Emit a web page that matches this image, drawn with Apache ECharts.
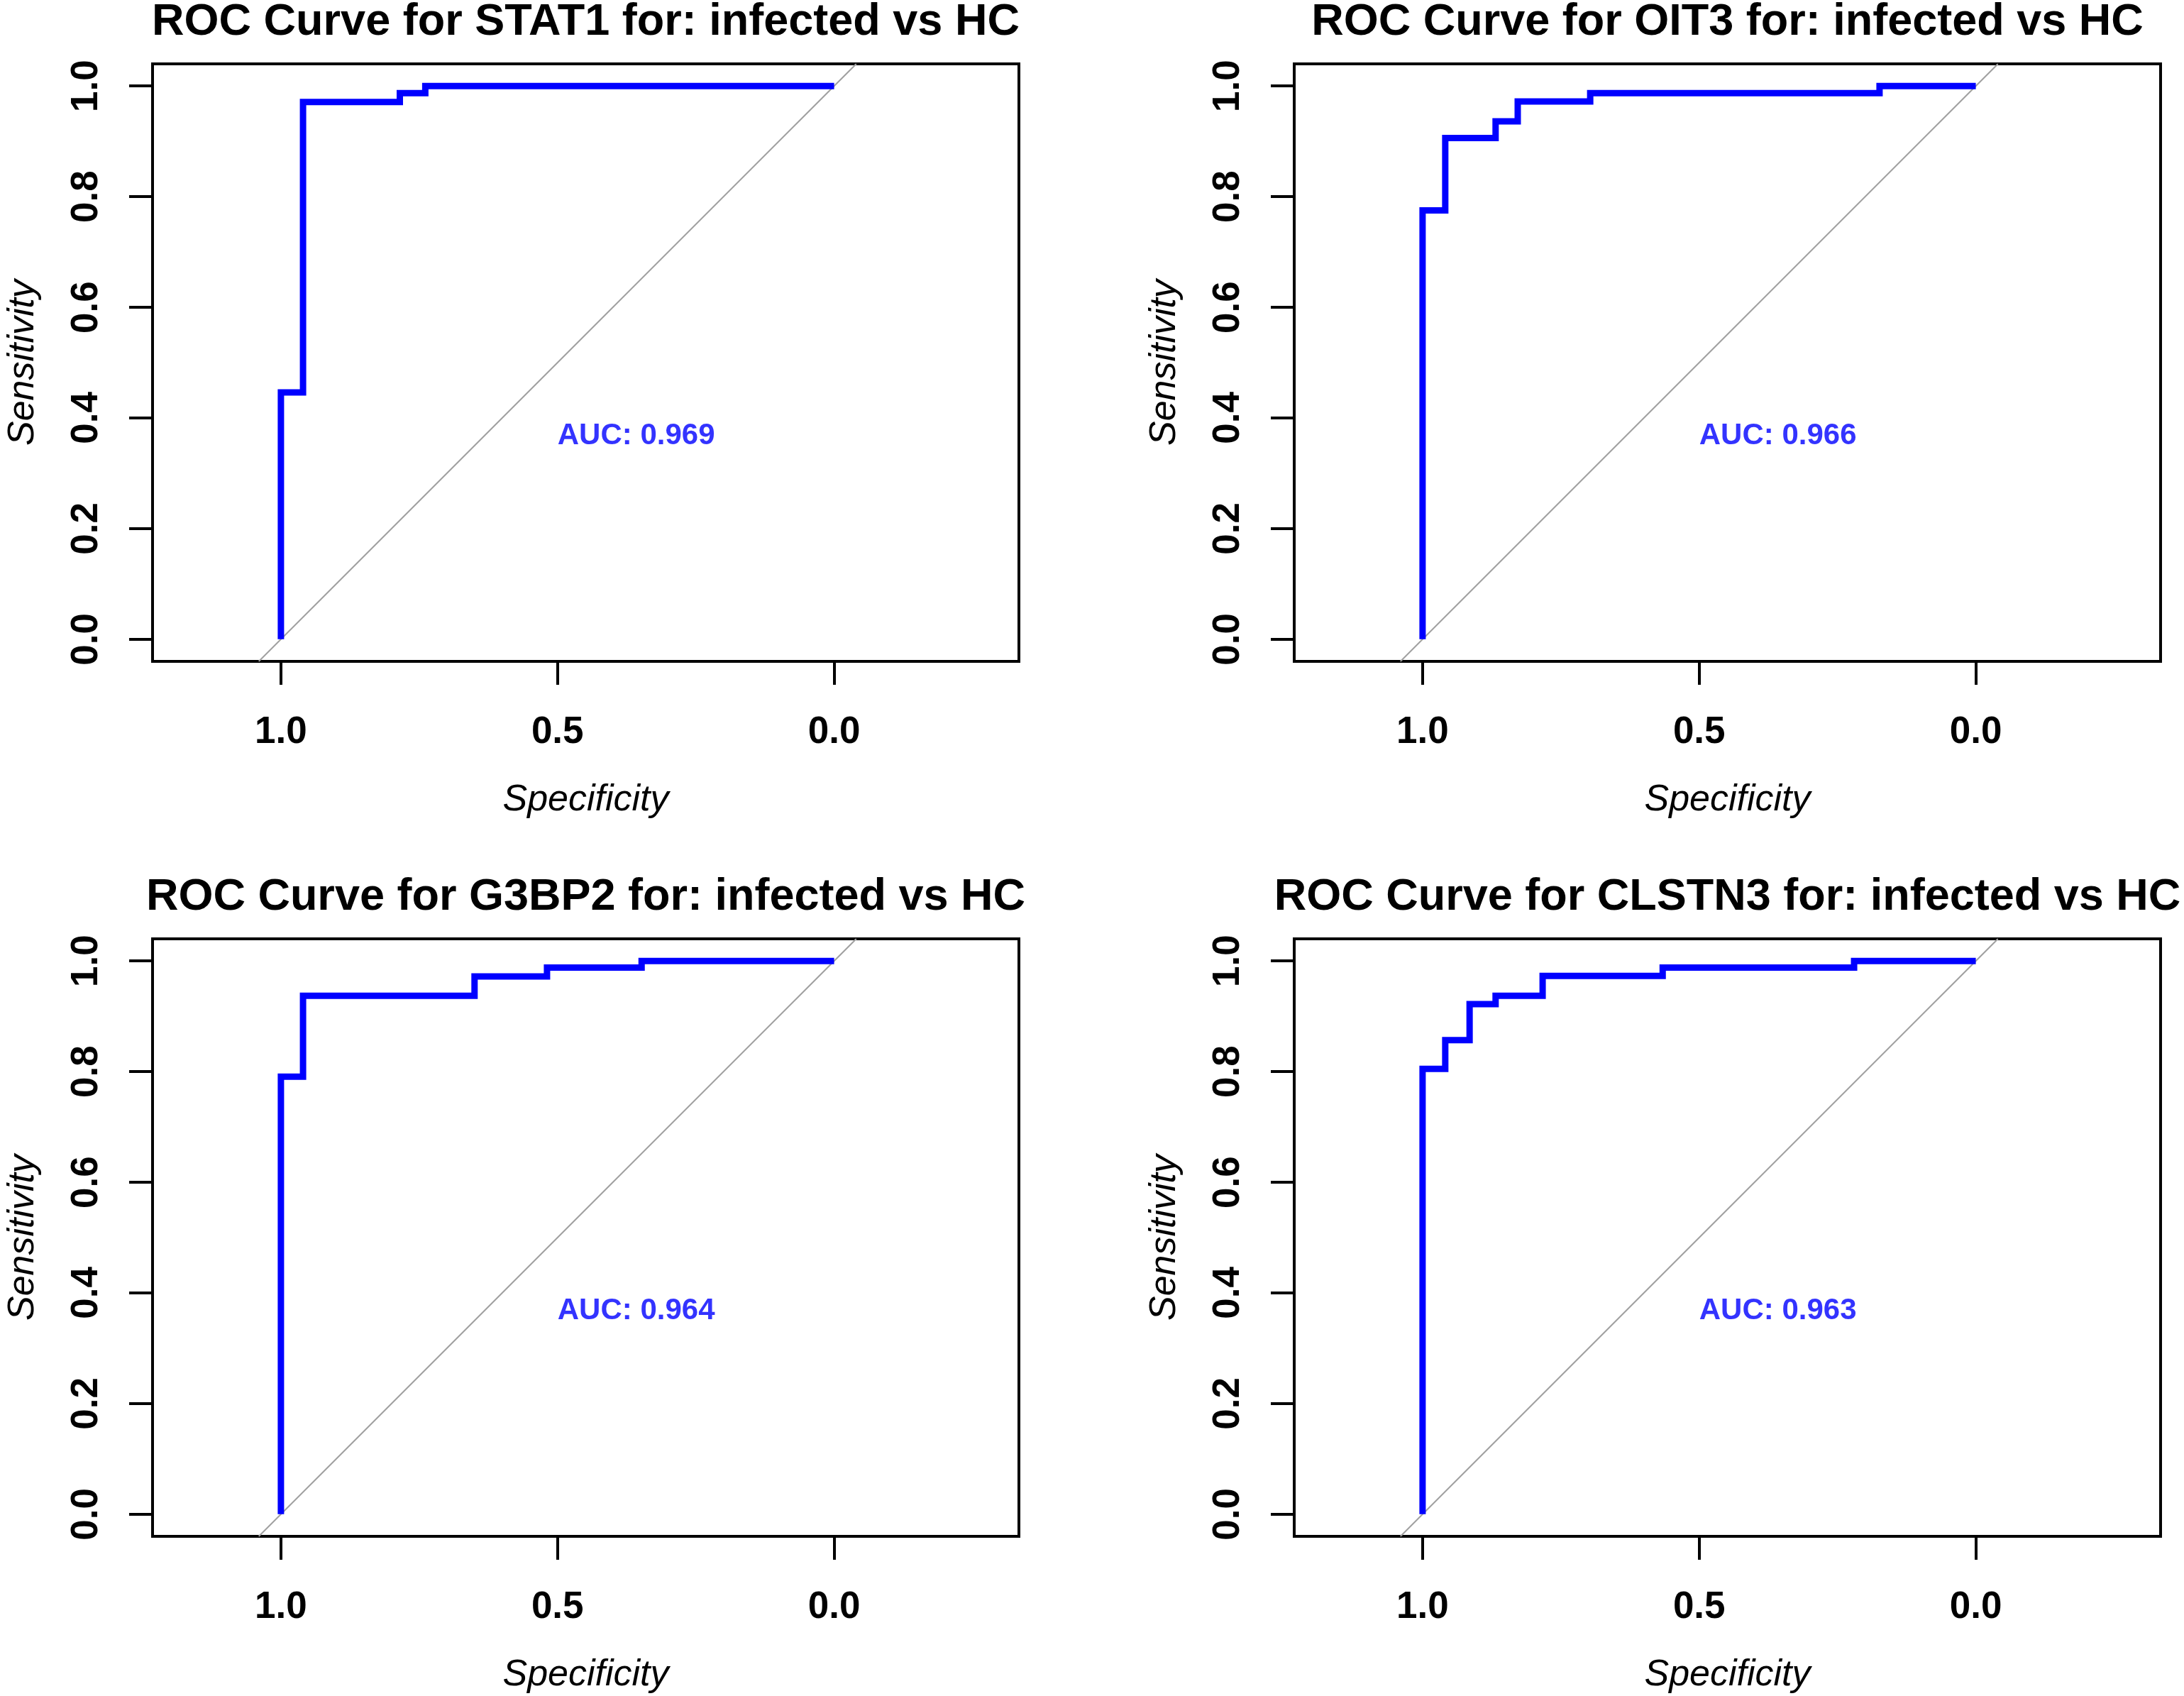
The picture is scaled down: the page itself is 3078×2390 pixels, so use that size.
<!DOCTYPE html>
<html>
<head>
<meta charset="utf-8">
<script src="https://cdn.jsdelivr.net/npm/echarts@6/dist/echarts.min.js"></script>
<style>
html,body{margin:0;padding:0;background:#ffffff;}
#chart{width:3078px;height:2390px;}
</style>
</head>
<body>
<div id="chart"></div>
<script>
// ---------- data ----------
const genes = ['STAT1', 'OIT3', 'G3BP2', 'CLSTN3'];
const aucValues = [0.969, 0.966, 0.964, 0.963];

const stat1Spec = [1, 1, 0.960, 0.785, 0.739, 0];
const stat1Sens = [0, 0.446, 0.971, 0.987, 1, 1];

const oit3Spec = [1, 1, 0.959, 0.868, 0.828, 0.697, 0.174, 0];
const oit3Sens = [0, 0.775, 0.906, 0.936, 0.972, 0.987, 1, 1];

const g3bp2Spec = [1, 1, 0.960, 0.650, 0.519, 0.348, 0];
const g3bp2Sens = [0, 0.791, 0.937, 0.972, 0.988, 1, 1];

const clstn3Spec = [1, 1, 0.959, 0.915, 0.868, 0.783, 0.566, 0.220, 0];
const clstn3Sens = [0, 0.805, 0.857, 0.922, 0.937, 0.973, 0.988, 1, 1];

const sensTicks = [0, 0.2, 0.4, 0.6, 0.8, 1.0];
const specTicks = [1.0, 0.5, 0.0];

// chance diagonal (sensitivity = 1 - specificity), across the plotting range
const diagSpec = [1.04, -0.04];
const diagSens = [-0.04, 1.04];

// AUC label anchor (specificity, sensitivity)
const aucPos = [0.5, 0.367];

// ---------- layout / style ----------
const specList = [stat1Spec, oit3Spec, g3bp2Spec, clstn3Spec];
const sensList = [stat1Sens, oit3Sens, g3bp2Sens, clstn3Sens];
const FONT = "'Liberation Sans', Arial, sans-serif";
const boxes = [
  {left: 215, top: 90},
  {left: 1824, top: 90},
  {left: 215, top: 1323},
  {left: 1824, top: 1323}
];
const BOX_W = 1221, BOX_H = 842;
const X_MIN = -0.334, X_MAX = 1.232;
const Y_MIN = -0.04, Y_MAX = 1.04;

const zip = (a, b) => a.map((v, i) => [v, b[i]]);

const grid = [], xAxis = [], yAxis = [], series = [], graphic = [];
boxes.forEach((b, i) => {
  grid.push({
    left: b.left, top: b.top, width: BOX_W, height: BOX_H,
    show: true, borderColor: '#000', borderWidth: 4,
    backgroundColor: 'transparent', containLabel: false
  });
  xAxis.push({
    gridIndex: i, type: 'value', min: X_MIN, max: X_MAX, inverse: true,
    splitLine: {show: false},
    axisLine: {show: false, onZero: false},
    axisTick: {show: true, length: 33, lineStyle: {width: 4, color: '#000'}, customValues: specTicks},
    axisLabel: {
      show: true, customValues: specTicks, formatter: v => Number(v).toFixed(1),
      fontSize: 53, fontWeight: 'bold', color: '#000', margin: 74, fontFamily: FONT
    },
    name: 'Specificity', nameLocation: 'middle', nameGap: 170,
    nameTextStyle: {fontSize: 52, fontStyle: 'italic', color: '#000', fontFamily: FONT}
  });
  yAxis.push({
    gridIndex: i, type: 'value', min: Y_MIN, max: Y_MAX,
    splitLine: {show: false},
    axisLine: {show: false, onZero: false},
    axisTick: {show: true, length: 33, lineStyle: {width: 4, color: '#000'}, customValues: sensTicks},
    axisLabel: {
      show: true, customValues: sensTicks, formatter: v => Number(v).toFixed(1), rotate: 90,
      fontSize: 53, fontWeight: 'bold', color: '#000', margin: 66, fontFamily: FONT
    },
    name: 'Sensitivity', nameLocation: 'middle', nameGap: 156,
    nameTextStyle: {fontSize: 52, fontStyle: 'italic', color: '#000', fontFamily: FONT}
  });
  series.push({
    type: 'line', xAxisIndex: i, yAxisIndex: i,
    data: zip(diagSpec, diagSens),
    showSymbol: false, silent: true, z: 1,
    lineStyle: {color: '#a0a0a0', width: 2}
  });
  series.push({
    type: 'line', xAxisIndex: i, yAxisIndex: i,
    data: zip(specList[i], sensList[i]),
    step: 'end', showSymbol: false, z: 3,
    lineStyle: {color: '#0000FF', width: 9, join: 'miter', cap: 'butt'}
  });
  series.push({
    type: 'scatter', xAxisIndex: i, yAxisIndex: i,
    data: [aucPos], symbolSize: 0.1, silent: true, z: 4,
    itemStyle: {color: 'rgba(0,0,0,0)'},
    label: {
      show: true, position: 'right', distance: 0,
      formatter: 'AUC: ' + aucValues[i].toFixed(3),
      fontSize: 42, fontWeight: 'bold', color: '#0000FF', fontFamily: FONT
    }
  });
  graphic.push({
    type: 'text', x: b.left + BOX_W / 2, y: b.top - 58,
    style: {
      text: 'ROC Curve for ' + genes[i] + ' for: infected vs HC',
      font: 'bold 63px ' + FONT, fill: '#000',
      textAlign: 'center', textVerticalAlign: 'middle'
    }
  });
});

const chart = echarts.init(document.getElementById('chart'), null, {renderer: 'canvas'});
chart.setOption({
  backgroundColor: '#ffffff',
  animation: false,
  grid, xAxis, yAxis, series, graphic
});
</script>
</body>
</html>
